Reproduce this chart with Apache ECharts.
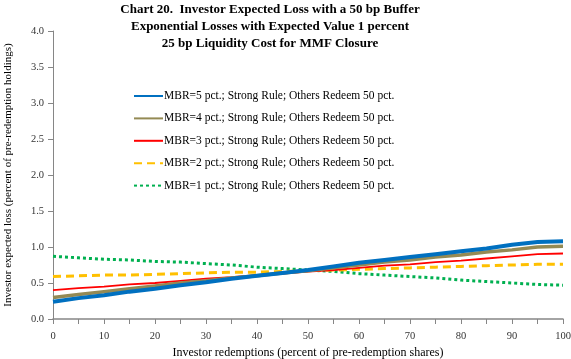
<!DOCTYPE html>
<html><head><meta charset="utf-8">
<script src="https://cdn.jsdelivr.net/npm/echarts@6/dist/echarts.min.js"></script>
<style>html,body{margin:0;padding:0;background:#fff}#c{width:571px;height:359px}</style>
</head><body><div id="c"></div>
<script>
const xs = [0,5,10,15,20,25,30,35,40,45,50,55,60,65,70,75,80,85,90,95,100];
const mbr5 = [0.24,0.29,0.33,0.38,0.42,0.47,0.51,0.56,0.60,0.64,0.68,0.73,0.78,0.82,0.86,0.90,0.94,0.98,1.03,1.07,1.08];
const mbr4 = [0.30,0.34,0.38,0.42,0.46,0.50,0.53,0.57,0.60,0.64,0.67,0.71,0.75,0.79,0.82,0.86,0.89,0.93,0.96,1.00,1.01];
const mbr3 = [0.40,0.43,0.45,0.48,0.50,0.53,0.56,0.58,0.61,0.63,0.66,0.68,0.71,0.74,0.76,0.79,0.81,0.84,0.87,0.90,0.91];
const mbr2 = [0.59,0.60,0.61,0.61,0.62,0.63,0.64,0.65,0.65,0.66,0.67,0.68,0.69,0.70,0.71,0.72,0.73,0.74,0.75,0.76,0.76];
const mbr1 = [0.87,0.85,0.83,0.82,0.80,0.79,0.77,0.75,0.72,0.70,0.68,0.66,0.63,0.61,0.59,0.57,0.54,0.52,0.50,0.48,0.47];
const names = [
  'MBR=5 pct.; Strong Rule; Others Redeem 50 pct.',
  'MBR=4 pct.; Strong Rule; Others Redeem 50 pct.',
  'MBR=3 pct.; Strong Rule; Others Redeem 50 pct.',
  'MBR=2 pct.; Strong Rule; Others Redeem 50 pct.',
  'MBR=1 pct.; Strong Rule; Others Redeem 50 pct.'
];
const FONT = 'Liberation Serif';
const pair = a => xs.map((x,i)=>[x,a[i]]);
const styles = [
  {color:'#0070c0', width:4, type:'solid'},
  {color:'#948a54', width:3.5, type:'solid'},
  {color:'#ff0000', width:1.8, type:'solid'},
  {color:'#ffc000', width:3, type:[8,5]},
  {color:'#00b050', width:3, type:[3,3]}
];
const data = [mbr5,mbr4,mbr3,mbr2,mbr1];
const chart = echarts.init(document.getElementById('c'), null, {renderer:'canvas'});
chart.setOption({
  animation:false,
  title:{
    text:'Chart 20.  Investor Expected Loss with a 50 bp Buffer\nExponential Losses with Expected Value 1 percent\n25 bp Liquidity Cost for MMF Closure',
    left:265, textAlign:'center', top:-4,
    textStyle:{fontFamily:FONT, fontSize:13, fontWeight:'bold', color:'#000', lineHeight:17}
  },
  legend:{
    orient:'vertical', left:133, top:90, padding:0, itemGap:10.4, itemWidth:29, itemHeight:12,
    itemStyle:{opacity:0},
    textStyle:{fontFamily:FONT, fontSize:11.5, color:'#000', padding:[0,0,0,-4]},
    data:names
  },
  grid:{left:53, right:8, top:31, bottom:40, containLabel:false, outerBoundsMode:'none'},
  xAxis:{
    type:'value', min:0, max:100, interval:5,
    name:'Investor redemptions (percent of pre-redemption shares)',
    nameLocation:'middle', nameGap:26,
    nameTextStyle:{fontFamily:FONT, fontSize:12, color:'#000'},
    axisLine:{lineStyle:{color:'#868686', width:1.5}},
    axisTick:{show:true, length:5, lineStyle:{color:'#868686'}},
    axisLabel:{fontFamily:FONT, fontSize:10.5, color:'#333', margin:12,
      formatter: v => (v % 10 === 0 ? String(v) : '')},
    splitLine:{show:false}
  },
  yAxis:{
    type:'value', min:0, max:4, interval:0.5,
    name:'Investor expected loss (percent of pre-redemption holdings)',
    nameLocation:'middle', nameGap:39,
    nameTextStyle:{fontFamily:FONT, fontSize:11, color:'#000'},
    axisLine:{show:true, lineStyle:{color:'#868686', width:1}},
    axisTick:{show:true, length:5, lineStyle:{color:'#868686'}},
    axisLabel:{fontFamily:FONT, fontSize:10.5, color:'#333', margin:9,
      formatter: v => v.toFixed(1)},
    splitLine:{show:false}
  },
  series: data.map((a,i)=>({
    name:names[i], type:'line', data:pair(a), symbol:'none', smooth:false,
    lineStyle:{color:styles[i].color, width:styles[i].width, type:styles[i].type},
    itemStyle:{color:styles[i].color},
    z: 10-i
  }))
});
</script></body></html>
